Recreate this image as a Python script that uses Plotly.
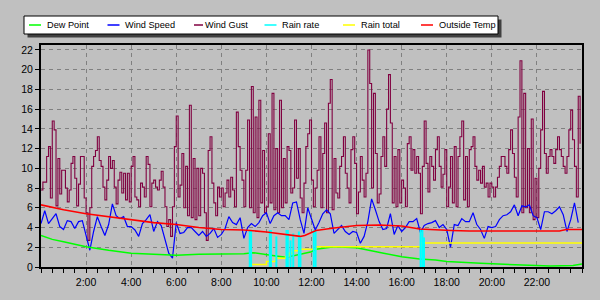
import plotly.graph_objects as go

# ---------------- data ----------------
# Wind gust, 5-minute samples (one row per hour)
wind_gust = [
    7.8, 8.6, 8.6, 11.2, 12.2, 7.0, 14.8, 13.9, 6.2, 11.0, 7.4, 9.8,
    9.8, 8.0, 6.6, 7.8, 10.5, 11.2, 9.0, 6.2, 8.4, 11.2, 11.2, 7.0,
    5.5, 2.7, 6.0, 10.2, 11.2, 11.8, 13.2, 10.8, 10.2, 8.1, 6.8, 8.8,
    11.2, 10.0, 10.8, 8.1, 6.4, 8.8, 9.6, 7.5, 9.5, 6.8, 9.5, 6.6,
    10.2, 11.2, 7.1, 6.8, 6.1, 8.5, 8.1, 7.1, 11.2, 10.4, 6.1, 8.5,
    8.8, 8.1, 7.8, 8.8, 9.7, 8.1, 6.1, 4.1, 4.8, 3.1, 6.1, 12.2,
    15.3, 7.1, 8.3, 11.5, 6.0, 10.2, 5.2, 16.4, 5.0, 11.0, 4.8, 10.0,
    5.2, 10.0, 9.5, 5.5, 2.7, 11.8, 13.2, 8.5, 6.5, 5.2, 8.1, 7.1,
    8.0, 6.1, 7.5, 8.8, 7.1, 9.1, 7.8, 6.1, 15.7, 12.2, 9.8, 8.8,
    6.1, 9.8, 14.9, 6.0, 18.3, 5.5, 15.2, 5.0, 16.9, 6.5, 11.8, 5.5,
    6.1, 13.5, 6.5, 17.6, 5.8, 12.0, 5.5, 16.9, 6.0, 11.0, 6.5, 12.2,
    11.8, 7.5, 8.0, 14.9, 9.0, 12.0, 7.0, 5.5, 8.5, 12.2, 13.5, 14.9,
    8.8, 6.1, 8.0, 9.8, 13.2, 6.0, 11.5, 14.6, 5.5, 16.6, 19.0, 5.8,
    11.0, 7.5, 7.0, 10.2, 11.2, 13.2, 9.5, 8.0, 6.5, 11.9, 13.2, 10.5,
    5.4, 7.6, 11.2, 8.8, 7.1, 9.5, 22.0, 18.6, 8.0, 17.6, 11.5, 6.5,
    7.4, 11.2, 13.2, 10.2, 16.0, 19.5, 14.6, 6.5, 11.2, 6.1, 11.9, 6.5,
    8.8, 8.0, 6.1, 12.5, 13.2, 9.8, 11.9, 9.5, 11.2, 9.5, 5.4, 10.2,
    14.8, 10.5, 7.6, 11.2, 10.2, 8.8, 11.9, 13.2, 10.2, 8.1, 9.4, 11.9,
    6.1, 8.1, 11.2, 6.5, 12.2, 6.1, 11.2, 13.2, 14.8, 6.8, 11.2, 6.1,
    11.9, 12.2, 13.2, 10.2, 8.8, 9.8, 8.5, 10.2, 8.1, 8.5, 7.1, 8.5,
    8.1, 7.1, 8.1, 9.1, 10.2, 11.2, 11.2, 10.2, 9.5, 11.9, 13.9, 11.5,
    9.1, 7.1, 15.2, 20.9, 5.5, 17.6, 6.0, 12.0, 5.5, 15.0, 4.8, 9.0,
    5.0, 10.0, 13.9, 17.8, 11.5, 9.5, 11.2, 11.9, 11.2, 10.5, 11.9, 13.2,
    11.9, 11.2, 10.2, 9.5, 11.2, 13.9, 15.9, 12.9, 10.2, 7.1, 17.3, 12.5,
]
gust_step_min = 5

# Wind speed, 10-minute samples (one row per two hours)
wind_speed = [
    4.4, 5.7, 4.4, 4.9, 5.4, 4.1, 3.8, 4.7, 4.6, 3.9, 4.6, 4.7,
    3.2, 1.7, 3.6, 5.1, 4.1, 3.2, 4.3, 6.4, 5.2, 4.9, 5.1, 4.1,
    4.1, 3.75, 3.1, 4.4, 4.8, 5.3, 3.6, 4.6, 4.2, 2.9, 1.4, 0.9,
    4.5, 3.4, 3.5, 4.0, 4.0, 3.6, 3.2, 3.6, 3.1, 3.4, 3.9, 3.0,
    3.3, 3.9, 5.1, 4.5, 4.3, 5.0, 2.9, 4.0, 4.4, 4.1, 4.5, 5.2,
    5.5, 4.4, 5.2, 5.5, 5.2, 5.2, 4.8, 6.5, 6.6, 4.8, 3.4, 6.0,
    4.8, 3.75, 4.5, 5.4, 5.8, 5.4, 3.4, 3.8, 4.2, 3.6, 3.3, 3.6,
    3.5, 2.4, 3.1, 4.6, 6.9, 5.8, 4.6, 3.8, 3.9, 5.4, 3.3, 4.2,
    3.6, 4.0, 4.6, 4.6, 4.9, 3.5, 4.2, 4.4, 4.5, 4.7, 4.0, 4.3,
    3.8, 2.0, 4.3, 4.2, 4.9, 4.6, 4.6, 5.5, 4.3, 3.8, 2.9, 4.1,
    4.0, 4.1, 4.8, 5.2, 5.3, 5.6, 6.3, 5.2, 6.2, 6.1, 6.3, 5.2,
    5.0, 3.8, 5.6, 5.6, 5.4, 5.7, 6.1, 5.3, 3.6, 4.8, 6.5, 4.5,
]
speed_step_min = 10

# Outside temperature
temp_hours = [0, 1, 2, 3, 4, 5, 6, 7, 8, 9, 10, 10.5, 11, 11.5, 11.7, 12, 12.2,
              13, 14, 15, 16, 16.8, 17.5, 18.2, 19, 20, 21, 22, 23, 23.3, 24]
temp_vals = [6.3, 5.8, 5.4, 5.1, 4.8, 4.5, 4.3, 4.0, 3.8, 3.75, 3.55, 3.4, 3.3, 3.1, 3.2, 3.5, 3.7,
             3.95, 4.2, 4.25, 4.15, 3.85, 3.75, 3.7, 3.65, 3.65, 3.65, 3.65, 3.65, 3.8, 3.8]

# Dew point
dew_hours = [0, 0.5, 1, 1.5, 2, 3, 4, 5, 6, 7, 8, 9, 9.4, 10, 10.5, 10.9, 11.5, 12, 12.2,
             13, 14, 14.5, 15.2, 16, 16.8, 17.5, 18, 19.5, 20.4, 21.1, 22.6, 23.6, 24]
dew_vals = [3.2, 2.8, 2.55, 2.3, 2.06, 1.7, 1.4, 1.3, 1.2, 1.3, 1.3, 1.35, 1.45, 1.3, 1.1, 0.98, 1.3, 1.55, 1.8,
            2.06, 1.95, 1.7, 1.4, 1.05, 0.8, 0.7, 0.55, 0.37, 0.3, 0.2, 0.1, 0.15, 0.3]

# Rain rate spikes
rain_rate_hours = [9.26, 9.32, 10.15, 10.2, 10.44, 10.89, 10.95, 11.07, 11.19, 11.44, 11.51,
                   12.1, 12.18, 16.84, 16.92, 16.99]
rain_rate_vals = [3.75, 3.75, 3.75, 3.75, 3.1, 3.75, 3.75, 2.7, 3.4, 3.6, 3.0,
                  3.75, 3.75, 3.75, 3.75, 3.0]

# Rain total (step changes)
rain_total_hours = [9.25, 10.0, 10.4, 10.85, 11.0, 11.2, 11.5, 12.2, 16.85, 24]
rain_total_vals = [0.25, 0.55, 0.88, 1.1, 1.4, 1.65, 1.8, 2.06, 2.42, 2.42]

tick_hours = [2, 4, 6, 8, 10, 12, 14, 16, 18, 20, 22]
tick_labels = ["2:00", "4:00", "6:00", "8:00", "10:00", "12:00", "14:00",
               "16:00", "18:00", "20:00", "22:00"]
y_ticks = list(range(0, 23, 2))

legend_names = ["Dew Point", "Wind Speed", "Wind Gust", "Rain rate", "Rain total", "Outside Temp"]
legend_colors = ["#00ff00", "#0000ff", "#800040", "#00ffff", "#ffff00", "#ff0000"]

# ---------------- figure ----------------
gust_x = [i * gust_step_min / 60 for i in range(len(wind_gust))]
speed_x = [i * speed_step_min / 60 for i in range(len(wind_speed))]

rr_x, rr_y = [], []
for t, v in zip(rain_rate_hours, rain_rate_vals):
    rr_x += [t, t, None]
    rr_y += [0, v, None]

fig = go.Figure()
fig.add_trace(go.Scatter(x=gust_x, y=wind_gust, mode="lines", line_shape="hv",
                         line=dict(color="#800040", width=1.1), name="Wind Gust"))
fig.add_trace(go.Scatter(x=speed_x, y=wind_speed, mode="lines",
                         line=dict(color="#0000ff", width=1.2), name="Wind Speed"))
fig.add_trace(go.Scatter(x=dew_hours, y=dew_vals, mode="lines",
                         line=dict(color="#00ff00", width=1.5), name="Dew Point"))
fig.add_trace(go.Scatter(x=rain_total_hours, y=rain_total_vals, mode="lines", line_shape="hv",
                         line=dict(color="#ffff00", width=1.5), name="Rain total"))
fig.add_trace(go.Scatter(x=rr_x, y=rr_y, mode="lines",
                         line=dict(color="#00ffff", width=2), name="Rain rate"))
fig.add_trace(go.Scatter(x=temp_hours, y=temp_vals, mode="lines",
                         line=dict(color="#ff0000", width=1.6), name="Outside Temp"))

ML, MR, MT, MB = 41, 18, 45, 33
W, H = 600, 300
PW, PH = W - ML - MR, H - MT - MB


def px_x(px):
    return (px - ML) / PW


def px_y(py):
    return (H - MB - py) / PH


shapes = [
    dict(type="rect", xref="paper", yref="paper", x0=px_x(27.5), x1=px_x(501.5),
         y0=px_y(37.5), y1=px_y(19.5), fillcolor="#404040", line=dict(width=0), layer="above"),
    dict(type="rect", xref="paper", yref="paper", x0=px_x(24), x1=px_x(498),
         y0=px_y(34), y1=px_y(16), fillcolor="#ffffff", line=dict(color="black", width=1), layer="above"),
]
annotations = []
line_starts = [29, 107.5, 194, 264.5, 343, 421]
line_ends = [41, 119.5, 203, 276.5, 355, 433]
text_starts = [46.5, 124, 204, 281.5, 360, 438]
for name, col, a, b, t in zip(legend_names, legend_colors, line_starts, line_ends, text_starts):
    shapes.append(dict(type="line", xref="paper", yref="paper", x0=px_x(a), x1=px_x(b),
                       y0=px_y(25), y1=px_y(25), line=dict(color=col, width=1.5), layer="above"))
    annotations.append(dict(xref="paper", yref="paper", x=px_x(t - 1.5), y=px_y(25.5),
                            xanchor="left", yanchor="middle", showarrow=False, text=name,
                            font=dict(size=9.2, color="black", family="Liberation Sans, Arial")))

axis_common = dict(showgrid=True, gridcolor="#808080", gridwidth=1, griddash="4px,4px",
                   showline=True, linecolor="black", linewidth=2, mirror=True,
                   ticks="outside", ticklen=4, tickcolor="black", tickwidth=1,
                   zeroline=False, fixedrange=True)

fig.update_layout(
    width=W, height=H, margin=dict(l=ML, r=MR, t=MT, b=MB, pad=0),
    paper_bgcolor="#c0c0c0", plot_bgcolor="#c0c0c0", showlegend=False,
    font=dict(family="Liberation Sans, Arial", size=10.5, color="black"),
    shapes=shapes, annotations=annotations,
    xaxis=dict(range=[0, 24], tickvals=tick_hours, ticktext=tick_labels,
               minor=dict(dtick=0.5, tick0=0, ticks="outside", ticklen=4, tickcolor="black", showgrid=False),
               **axis_common),
    yaxis=dict(range=[0, 22.5], tickvals=y_ticks, **axis_common),
)

fig.write_html("out.html")
